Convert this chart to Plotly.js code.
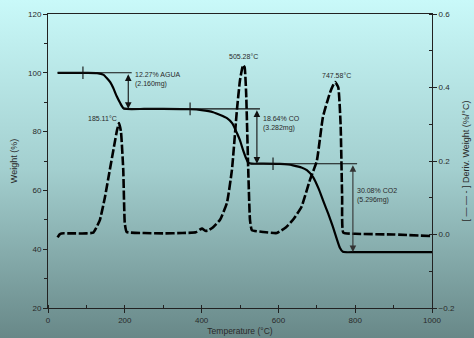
<!DOCTYPE html>
<html>
<head>
<meta charset="utf-8">
<script src="https://cdn.plot.ly/plotly-3.0.1.min.js"></script>
<style>
html,body{margin:0;padding:0;}
body{width:474px;height:338px;background:linear-gradient(to bottom,#c9f9f9 0%,#a3cfcf 50%,#688888 100%);}
#chart{width:474px;height:338px;}
</style>
</head>
<body>
<div id="chart"></div>
<script>
// TGA curve (Weight %)
const tgaT = [25, 60, 100, 128, 145, 153, 162, 170, 179, 188, 196, 205, 250, 300, 370, 400, 430, 466, 480, 492, 500, 508, 515, 521, 530, 560, 604, 625, 638, 660, 674, 690, 705, 716, 730, 742, 752, 760, 768, 800, 900, 1000];
const tgaW = [100, 100, 100, 99.9, 99.3, 98.2, 96.8, 94.8, 92.0, 89.7, 88.0, 87.7, 87.7, 87.7, 87.6, 87.3, 86.6, 84.6, 82.8, 79.5, 77.0, 73.7, 71.2, 69.5, 69.1, 69.1, 69.0, 68.8, 68.5, 67.8, 66.9, 64.6, 60.5, 56.7, 52.0, 47.6, 43.5, 40.5, 39.1, 39.0, 39.0, 39.0];
// DTG curve (Deriv. Weight %/°C)
const dtgT = [25, 30, 35, 60, 100, 118, 124, 135, 148, 161, 172, 180, 185, 190, 196, 200, 205, 250, 300, 350, 385, 395, 401, 410, 417, 430, 448, 466, 479, 492, 500, 508, 512, 516, 521, 526, 531, 560, 596, 620, 638, 660, 682, 700, 716, 734, 742, 748, 756, 762, 766, 769, 800, 900, 995];
const dtgV = [-0.008, 0.0, 0.003, 0.003, 0.003, 0.005, 0.015, 0.039, 0.10, 0.176, 0.24, 0.285, 0.303, 0.28, 0.176, 0.03, 0.007, 0.004, 0.003, 0.004, 0.006, 0.013, 0.016, 0.01, 0.011, 0.02, 0.04, 0.086, 0.176, 0.339, 0.42, 0.461, 0.455, 0.385, 0.194, 0.04, 0.012, 0.007, 0.004, 0.02, 0.04, 0.075, 0.148, 0.20, 0.32, 0.385, 0.405, 0.415, 0.40, 0.30, 0.10, 0.005, 0.002, 0.0, -0.004];

// Step analysis
const stepLevels = [100, 87.73, 69.09, 39.01];
const stepLineStart = [25, 196, 525];
const stepLineEnd = [218, 552, 805];
const stepTickX = [91, 370, 586];
const arrowX = [209, 544, 794];
const lossLine1 = ["12.27% AGUA", "18.64% CO", "30.08% CO2"];
const lossLine2 = ["(2.160mg)", "(3.282mg)", "(5.296mg)"];
const lossTextX = [221, 555, 800];
const lossTextY = [97.6, 82.6, 58.1];

// Peak labels
const peakLabels = ["185.11°C", "505.28°C", "747.58°C"];
const peakLabelX = [141, 508, 750];
const peakLabelY = [84.6, 105.4, 99.2];

const FONT = '"Liberation Sans", Arial, sans-serif';
const TXT = '#2a2a2a';

const traces = [];
traces.push({x: dtgT, y: dtgV, yaxis: 'y2', type: 'scatter', mode: 'lines',
  line: {color: '#000', width: 2.6, dash: '9px,2.5px', shape: 'spline', smoothing: 0.4}, hoverinfo: 'skip'});
traces.push({x: tgaT, y: tgaW, type: 'scatter', mode: 'lines',
  line: {color: '#000', width: 2.2, shape: 'spline', smoothing: 0.5}, hoverinfo: 'skip'});
for (let i = 0; i < 3; i++) {
  traces.push({x: [stepLineStart[i], stepLineEnd[i]], y: [stepLevels[i], stepLevels[i]], type: 'scatter', mode: 'lines',
    line: {color: '#111', width: 1.1}, hoverinfo: 'skip'});
}
traces.push({x: stepTickX, y: stepLevels.slice(0, 3), type: 'scatter', mode: 'markers',
  marker: {symbol: 'line-ns', size: 9, line: {color: '#111', width: 1.1}}, hoverinfo: 'skip'});

const annotations = [];
for (let i = 0; i < 3; i++) {
  annotations.push({x: arrowX[i], y: stepLevels[i + 1], ax: arrowX[i], ay: stepLevels[i],
    xref: 'x', yref: 'y', axref: 'x', ayref: 'y', text: '', showarrow: true,
    arrowhead: 2, arrowside: 'end+start', arrowsize: 1.2, arrowwidth: 1.1,
    arrowcolor: i === 2 ? '#333' : '#111', standoff: 0, startstandoff: 0});
  annotations.push({x: lossTextX[i], y: lossTextY[i], xref: 'x', yref: 'y', text: lossLine1[i] + '<br>' + lossLine2[i],
    showarrow: false, xanchor: 'left', yanchor: 'middle', align: 'left',
    font: {family: FONT, size: 7, color: TXT}});
  annotations.push({x: peakLabelX[i], y: peakLabelY[i], xref: 'x', yref: 'y', text: peakLabels[i],
    showarrow: false, xanchor: 'center', yanchor: 'middle', font: {family: FONT, size: 7, color: TXT}});
}

const axisCommon = {showgrid: false, zeroline: false, showline: true, linecolor: '#222', linewidth: 1,
  ticks: 'outside', ticklen: 4, tickcolor: '#222', tickfont: {family: FONT, size: 8, color: TXT}};

const layout = {
  width: 474, height: 338,
  margin: {l: 48, r: 42, t: 14, b: 30},
  paper_bgcolor: 'rgba(0,0,0,0)', plot_bgcolor: 'rgba(0,0,0,0)',
  showlegend: false,
  font: {family: FONT, color: TXT},
  xaxis: Object.assign({}, axisCommon, {range: [0, 1000], dtick: 200, tick0: 0, mirror: true,
    minor: {dtick: 100, ticks: 'inside', ticklen: 3, tickcolor: '#222'},
    title: {text: 'Temperature (°C)', font: {family: FONT, size: 8.5, color: TXT}, standoff: 4}}),
  yaxis: Object.assign({}, axisCommon, {range: [20, 120], dtick: 20, tick0: 20,
    minor: {dtick: 10, ticks: 'outside', ticklen: 3, tickcolor: '#222'},
    title: {text: 'Weight (%)', font: {family: FONT, size: 9, color: TXT}, standoff: 8}}),
  yaxis2: Object.assign({}, axisCommon, {range: [-0.2, 0.6], dtick: 0.2, tick0: 0, overlaying: 'y', side: 'right',
    tickformat: '.1f',
    minor: {dtick: 0.1, ticks: 'inside', ticklen: 3, tickcolor: '#222'},
    title: {text: '[ — — - ] Deriv. Weight (%/°C)', font: {family: FONT, size: 9, color: TXT}, standoff: 8}}),
  annotations: annotations
};

Plotly.newPlot('chart', traces, layout, {displayModeBar: false, staticPlot: true});
</script>
</body>
</html>
